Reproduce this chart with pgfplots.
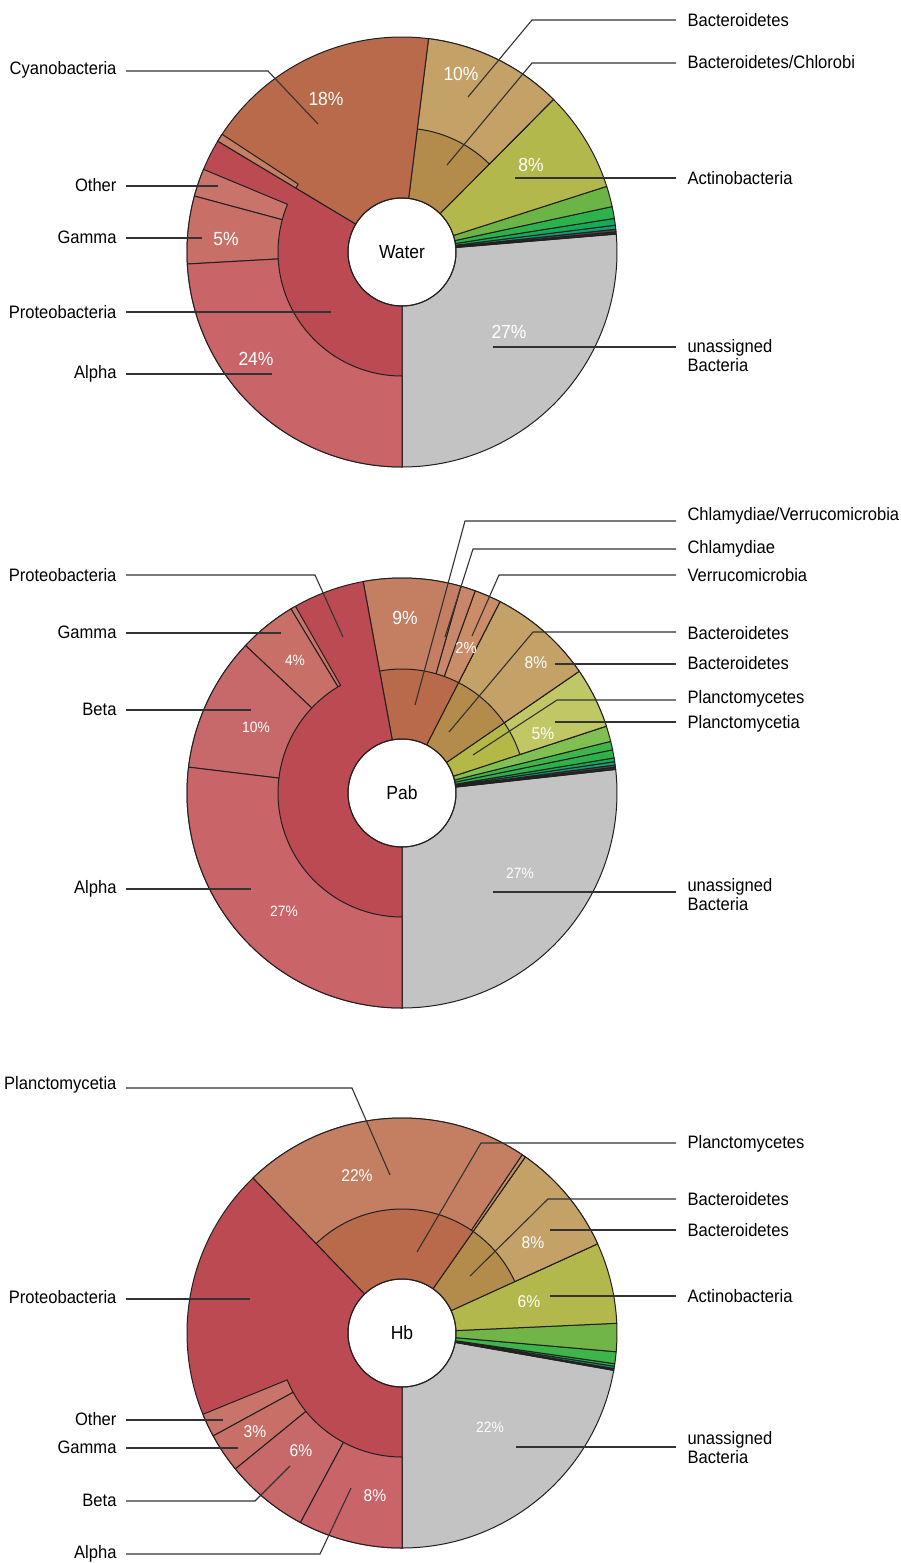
\documentclass[border=0pt]{standalone}
\usepackage{pgfplots}
\pgfplotsset{compat=1.18}
\usepackage{fontspec}
\setmainfont{Liberation Sans}[FakeStretch=0.92]
\definecolor{cGray}{HTML}{C3C3C3}
\definecolor{cAlpha}{HTML}{C96468}
\definecolor{cProteo}{HTML}{BC4A52}
\definecolor{cGamma}{HTML}{C87068}
\definecolor{cOther}{HTML}{C8746A}
\definecolor{cBeta}{HTML}{C7696A}
\definecolor{cCyano}{HTML}{B86A4B}
\definecolor{cSalmon}{HTML}{C47E62}
\definecolor{cBactIn}{HTML}{B38C4C}
\definecolor{cBactOut}{HTML}{C4A167}
\definecolor{cActino}{HTML}{B3B84C}
\definecolor{cGa}{HTML}{6BB546}
\definecolor{cGb}{HTML}{2DB24B}
\definecolor{cGc}{HTML}{13AB55}
\definecolor{cTeal}{HTML}{119F78}
\definecolor{cDa}{HTML}{2A2A2A}
\definecolor{cDb}{HTML}{4A4A4A}
\definecolor{cPlIn}{HTML}{B3B846}
\definecolor{cPlOut}{HTML}{C0C865}
\definecolor{cGd}{HTML}{80BF52}
\definecolor{cGe}{HTML}{3DB54A}
\definecolor{cVerr}{HTML}{CA8D68}
\definecolor{cChl}{HTML}{C8866A}
\definecolor{cThin}{HTML}{C8906A}
\definecolor{cHbG}{HTML}{71B447}
\definecolor{edge}{HTML}{231F20}
\definecolor{lead}{HTML}{333333}
% #1 centre y (pixels), #2 inner radius, #3 outer radius, #4 start %, #5 end %, #6 colour
\newcommand{\slice}[6]{%
  \filldraw[fill=#6, draw=edge, line width=1pt, line join=round]
    ([shift={({-90+3.6*#4}:#2pt)}]axis cs:402,#1)
    arc[start angle={-90+3.6*#4}, end angle={-90+3.6*#5}, radius=#2pt]
    -- ([shift={({-90+3.6*#5}:#3pt)}]axis cs:402,#1)
    arc[start angle={-90+3.6*#5}, end angle={-90+3.6*#4}, radius=#3pt]
    -- cycle;}
\newcommand{\lbl}{\fontsize{18}{19}\selectfont}
\begin{document}
\begin{tikzpicture}
\path[use as bounding box] (0,0) rectangle (901pt,1563pt);
\begin{axis}[at={(0,0)}, anchor=south west, scale only axis,
  width=901pt, height=1563pt, xmin=0, xmax=901, ymin=0, ymax=1563,
  y dir=reverse, hide axis, clip=false,
  every node/.style={text=edge, inner sep=0pt},
  leader/.style={lead, line width=1.1pt, mark=none}]
% ================= WATER (centre y = 252) =================
\slice{252}{54}{215}{0}{26.33}{cGray}
\slice{252}{54}{215}{26.33}{26.50}{cDa}
\slice{252}{54}{215}{26.50}{26.69}{cDb}
\slice{252}{54}{215}{26.69}{26.99}{cTeal}
\slice{252}{54}{215}{26.99}{27.50}{cGc}
\slice{252}{54}{215}{27.50}{28.39}{cGb}
\slice{252}{54}{215}{28.39}{29.94}{cGa}
\slice{252}{54}{215}{29.94}{37.56}{cActino}
\slice{252}{54}{215}{37.56}{48.03}{cBactIn}
\slice{252}{124}{215}{37.56}{48.03}{cBactOut}
\slice{252}{54}{215}{48.03}{66.39}{cCyano}
\slice{252}{124}{215}{65.78}{66.39}{cSalmon}
\slice{252}{54}{215}{66.39}{100}{cProteo}
\slice{252}{124}{215}{68.72}{70.81}{cOther}
\slice{252}{124}{215}{70.81}{75.89}{cGamma}
\slice{252}{124}{215}{75.89}{100}{cAlpha}
\draw[edge, line width=1pt] (axis cs:402,252) circle[radius=54pt];
% ================= PAB (centre y = 793) =================
\slice{793}{54}{215}{0}{26.75}{cGray}
\slice{793}{54}{215}{26.75}{26.92}{cDa}
\slice{793}{54}{215}{26.92}{27.08}{cDb}
\slice{793}{54}{215}{27.08}{27.33}{cTeal}
\slice{793}{54}{215}{27.33}{27.61}{cGc}
\slice{793}{54}{215}{27.61}{28.22}{cGb}
\slice{793}{54}{215}{28.22}{28.86}{cGe}
\slice{793}{54}{215}{28.86}{30.03}{cGd}
\slice{793}{54}{215}{30.03}{34.58}{cPlIn}
\slice{793}{124}{215}{30.03}{34.58}{cPlOut}
\slice{793}{54}{215}{34.58}{42.47}{cBactIn}
\slice{793}{124}{215}{34.58}{42.47}{cBactOut}
\slice{793}{54}{215}{42.47}{52.89}{cCyano}
\slice{793}{124}{215}{42.47}{44.47}{cVerr}
\slice{793}{124}{215}{44.47}{45.58}{cChl}
\slice{793}{124}{215}{45.58}{52.89}{cSalmon}
\slice{793}{54}{215}{52.89}{100}{cProteo}
\slice{793}{124}{215}{58.25}{58.64}{cOther}
\slice{793}{124}{215}{58.64}{62.97}{cGamma}
\slice{793}{124}{215}{62.97}{73.08}{cBeta}
\slice{793}{124}{215}{73.08}{100}{cAlpha}
\draw[edge, line width=1pt] (axis cs:402,793) circle[radius=54pt];
% ================= HB (centre y = 1333) =================
\slice{1333}{54}{215}{0}{22.22}{cGray}
\slice{1333}{54}{215}{22.22}{22.30}{cDa}
\slice{1333}{54}{215}{22.30}{22.36}{cDb}
\slice{1333}{54}{215}{22.36}{22.53}{cTeal}
\slice{1333}{54}{215}{22.53}{22.72}{cGb}
\slice{1333}{54}{215}{22.72}{23.61}{cGe}
\slice{1333}{54}{215}{23.61}{25.72}{cHbG}
\slice{1333}{54}{215}{25.72}{31.81}{cActino}
\slice{1333}{54}{215}{31.81}{40.28}{cBactIn}
\slice{1333}{124}{215}{31.81}{40.28}{cBactOut}
\slice{1333}{54}{215}{40.28}{62.19}{cCyano}
\slice{1333}{124}{215}{40.28}{40.56}{cThin}
\slice{1333}{124}{215}{40.56}{62.19}{cSalmon}
\slice{1333}{54}{215}{62.19}{100}{cProteo}
\slice{1333}{124}{215}{81.17}{82.94}{cOther}
\slice{1333}{124}{215}{82.94}{85.89}{cGamma}
\slice{1333}{124}{215}{85.89}{92.17}{cBeta}
\slice{1333}{124}{215}{92.17}{100}{cAlpha}
\draw[edge, line width=1pt] (axis cs:402,1333) circle[radius=54pt];
% ================= leader lines =================
% Water
\addplot[leader] coordinates {(676,20) (532,20) (468,97)};
\addplot[leader] coordinates {(676,63) (532,63) (447,165)};
\addplot[leader] coordinates {(676,178) (515,178)};
\addplot[leader] coordinates {(676,347) (493,347)};
\addplot[leader] coordinates {(126,71) (268,71) (318,124)};
\addplot[leader] coordinates {(126,186) (218,186)};
\addplot[leader] coordinates {(126,238) (202,238)};
\addplot[leader] coordinates {(126,312) (331,312)};
\addplot[leader] coordinates {(126,374) (272,374)};
% Pab
\addplot[leader] coordinates {(676,521) (465,521) (415,705)};
\addplot[leader] coordinates {(676,549) (473,549) (445,637)};
\addplot[leader] coordinates {(676,575) (499,575) (472,636)};
\addplot[leader] coordinates {(676,632) (533,632) (449,732)};
\addplot[leader] coordinates {(676,664) (555,664)};
\addplot[leader] coordinates {(676,700) (557,700) (473,755)};
\addplot[leader] coordinates {(676,722) (555,722)};
\addplot[leader] coordinates {(676,892) (493,892)};
\addplot[leader] coordinates {(126,575) (315,575) (343,637)};
\addplot[leader] coordinates {(126,633) (281,633)};
\addplot[leader] coordinates {(126,710) (251,710)};
\addplot[leader] coordinates {(126,889) (251,889)};
% Hb
\addplot[leader] coordinates {(676,1143) (481,1143) (417,1252)};
\addplot[leader] coordinates {(676,1199) (548,1199) (470,1276)};
\addplot[leader] coordinates {(676,1230) (550,1230)};
\addplot[leader] coordinates {(676,1296) (550,1296)};
\addplot[leader] coordinates {(676,1447) (516,1447)};
\addplot[leader] coordinates {(126,1088) (352,1088) (390,1175)};
\addplot[leader] coordinates {(126,1299) (250,1299)};
\addplot[leader] coordinates {(126,1420) (223,1420)};
\addplot[leader] coordinates {(126,1448) (238,1448)};
\addplot[leader] coordinates {(126,1501) (255,1501) (290,1466)};
\addplot[leader] coordinates {(126,1554) (320,1554) (351,1488)};
% ================= text labels =================
\node[anchor=center, font=\fontsize{19}{20}\selectfont] at (axis cs:402,252) {Water};
\node[anchor=center, font=\fontsize{19}{20}\selectfont] at (axis cs:402,793) {Pab};
\node[anchor=center, font=\fontsize{19}{20}\selectfont] at (axis cs:402,1333) {Hb};
% right labels
\node[anchor=west, font=\lbl] at (axis cs:684,20) {Bacteroidetes};
\node[anchor=west, font=\lbl] at (axis cs:684,62) {Bacteroidetes/Chlorobi};
\node[anchor=west, font=\lbl] at (axis cs:684,178) {Actinobacteria};
\node[anchor=west, font=\lbl, align=left] at (axis cs:684,356) {unassigned\\Bacteria};
\node[anchor=west, font=\lbl] at (axis cs:684,516) {Chlamydiae/Verrucomicrobia};
\node[anchor=west, font=\lbl] at (axis cs:684,549) {Chlamydiae};
\node[anchor=west, font=\lbl] at (axis cs:684,575) {Verrucomicrobia};
\node[anchor=west, font=\lbl] at (axis cs:684,633) {Bacteroidetes};
\node[anchor=west, font=\lbl] at (axis cs:684,663) {Bacteroidetes};
\node[anchor=west, font=\lbl] at (axis cs:684,699) {Planctomycetes};
\node[anchor=west, font=\lbl] at (axis cs:684,724) {Planctomycetia};
\node[anchor=west, font=\lbl, align=left] at (axis cs:684,895) {unassigned\\Bacteria};
\node[anchor=west, font=\lbl] at (axis cs:684,1144) {Planctomycetes};
\node[anchor=west, font=\lbl] at (axis cs:684,1199) {Bacteroidetes};
\node[anchor=west, font=\lbl] at (axis cs:684,1230) {Bacteroidetes};
\node[anchor=west, font=\lbl] at (axis cs:684,1296) {Actinobacteria};
\node[anchor=west, font=\lbl, align=left] at (axis cs:684,1448) {unassigned\\Bacteria};
% left labels
\node[anchor=east, font=\lbl] at (axis cs:120,70) {Cyanobacteria};
\node[anchor=east, font=\lbl] at (axis cs:120,185) {Other};
\node[anchor=east, font=\lbl] at (axis cs:120,237) {Gamma};
\node[anchor=east, font=\lbl] at (axis cs:120,312) {Proteobacteria};
\node[anchor=east, font=\lbl] at (axis cs:120,374) {Alpha};
\node[anchor=east, font=\lbl] at (axis cs:120,575) {Proteobacteria};
\node[anchor=east, font=\lbl] at (axis cs:120,632) {Gamma};
\node[anchor=east, font=\lbl] at (axis cs:120,709) {Beta};
\node[anchor=east, font=\lbl] at (axis cs:120,889) {Alpha};
\node[anchor=east, font=\lbl] at (axis cs:120,1085) {Planctomycetia};
\node[anchor=east, font=\lbl] at (axis cs:120,1297) {Proteobacteria};
\node[anchor=east, font=\lbl] at (axis cs:120,1419) {Other};
\node[anchor=east, font=\lbl] at (axis cs:120,1447) {Gamma};
\node[anchor=east, font=\lbl] at (axis cs:120,1500) {Beta};
\node[anchor=east, font=\lbl] at (axis cs:120,1554) {Alpha};
% percentages (white)
\begin{scope}[every node/.style={text=white, inner sep=0pt, anchor=center}]
\node[font=\fontsize{19}{20}\selectfont] at (axis cs:461,74) {10\%};
\node[font=\fontsize{19}{20}\selectfont] at (axis cs:531,165) {8\%};
\node[font=\fontsize{19}{20}\selectfont] at (axis cs:326,99) {18\%};
\node[font=\fontsize{19}{20}\selectfont] at (axis cs:226,239) {5\%};
\node[font=\fontsize{19}{20}\selectfont] at (axis cs:256,359) {24\%};
\node[font=\fontsize{19}{20}\selectfont] at (axis cs:509,332) {27\%};
\node[font=\fontsize{19}{20}\selectfont] at (axis cs:405,618) {9\%};
\node[font=\fontsize{16}{17}\selectfont] at (axis cs:466,648) {2\%};
\node[font=\fontsize{17}{18}\selectfont] at (axis cs:536,663) {8\%};
\node[font=\fontsize{17}{18}\selectfont] at (axis cs:543,734) {5\%};
\node[font=\fontsize{15}{16}\selectfont] at (axis cs:295,660) {4\%};
\node[font=\fontsize{15}{16}\selectfont] at (axis cs:256,727) {10\%};
\node[font=\fontsize{15}{16}\selectfont] at (axis cs:284,911) {27\%};
\node[font=\fontsize{15}{16}\selectfont] at (axis cs:520,873) {27\%};
\node[font=\fontsize{17}{18}\selectfont] at (axis cs:357,1176) {22\%};
\node[font=\fontsize{17}{18}\selectfont] at (axis cs:533,1243) {8\%};
\node[font=\fontsize{17}{18}\selectfont] at (axis cs:529,1302) {6\%};
\node[font=\fontsize{15}{16}\selectfont] at (axis cs:490,1427) {22\%};
\node[font=\fontsize{17}{18}\selectfont] at (axis cs:255,1432) {3\%};
\node[font=\fontsize{17}{18}\selectfont] at (axis cs:301,1451) {6\%};
\node[font=\fontsize{17}{18}\selectfont] at (axis cs:375,1496) {8\%};
\end{scope}
\end{axis}
\end{tikzpicture}
\end{document}
